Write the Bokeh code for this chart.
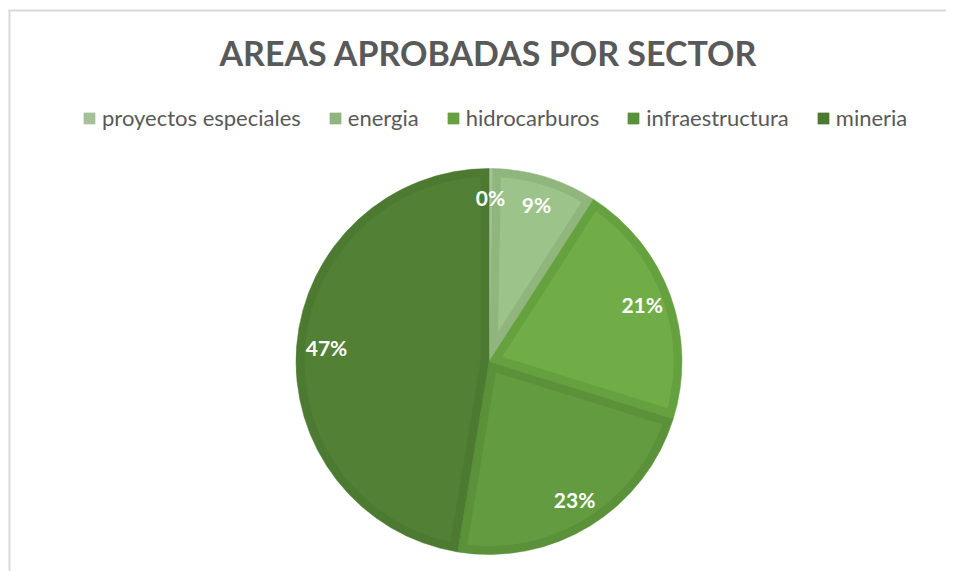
import math
from bokeh.plotting import figure
from bokeh.models import ColumnDataSource, Label
from bokeh.core.properties import value
from bokeh.embed import file_html
from bokeh.resources import INLINE

# ---- data ----
sectors = ["proyectos especiales", "energia", "hidrocarburos", "infraestructura", "mineria"]
shares = [0.3, 8.8, 20.7, 22.8, 47.4]
fill_colors = ["#A9C59F", "#9CC48A", "#70AD47", "#629B40", "#528034"]
edge_colors = ["#A4C199", "#90B67D", "#66A13F", "#5A9139", "#4C7A30"]
title_text = "AREAS APROBADAS POR SECTOR"

# ---- layout (pixel-like data space) ----
W, H = 946, 571
CX, CY, R = 488.5, 210.0, 193.0
INSET = 8.5
LABEL_R = 163.0

total = sum(shares)
starts, ends, mids = [], [], []
cum = 0.0
for s in shares:
    a0 = math.pi / 2 - 2 * math.pi * cum / total
    cum += s
    a1 = math.pi / 2 - 2 * math.pi * cum / total
    starts.append(a0)
    ends.append(a1)
    mids.append((a0 + a1) / 2)

pct_labels = [f"{round(s / total * 100)}%" for s in shares]

# inset polygons (inner fill area of every slice)
xs, ys = [], []
for a0, a1 in zip(starts, ends):
    h = (a0 - a1) / 2
    b = (a0 + a1) / 2
    if math.sin(h) * (R - INSET) < 3 * INSET:
        xs.append([CX])
        ys.append([CY])
        continue
    shift = INSET / math.sin(h)
    px, py = CX + shift * math.cos(b), CY + shift * math.sin(b)
    r2 = R - INSET
    t = math.sqrt(r2 ** 2 - INSET ** 2)
    dlt = math.atan2(INSET, t)
    s_ang, e_ang = a0 - dlt, a1 + dlt
    n = 80
    arc = [s_ang + (e_ang - s_ang) * k / n for k in range(n + 1)]
    xs.append([px] + [CX + r2 * math.cos(a) for a in arc])
    ys.append([py] + [CY + r2 * math.sin(a) for a in arc])

src = ColumnDataSource(dict(
    sector=sectors, start=starts, end=ends, fill=fill_colors, edge=edge_colors,
    xs=xs, ys=ys,
    lx=[CX + LABEL_R * math.cos(m) for m in mids],
    ly=[CY + LABEL_R * math.sin(m) + 1 for m in mids],
    lab=pct_labels,
))

p = figure(width=W, height=H, x_range=(0, W), y_range=(0, H),
           output_backend="svg", toolbar_location=None, min_border=0,
           x_axis_location=None, y_axis_location=None,
           outline_line_color=None, background_fill_color="white",
           border_fill_color="white")
p.grid.visible = False

# chart border (left / top visible in reference)
p.segment(x0=[9, 8], y0=[0, 561], x1=[9, W], y1=[561, 561],
          line_color="#D9D9D9", line_width=2)

p.wedge(x=CX, y=CY, radius=R, start_angle="start", end_angle="end",
        direction="clock", fill_color="edge", line_color="edge", line_width=0.5,
        source=src, legend_field="sector")
p.patches(xs="xs", ys="ys", fill_color="fill", line_color=None, source=src)

p.text(x="lx", y="ly", text="lab", source=src, text_align="center",
       text_baseline="middle", text_color="white", text_font=value("Lato"),
       text_font_style="bold", text_font_size="21px")

p.add_layout(Label(x=488, y=519, text=title_text, text_align="center",
                   text_baseline="alphabetic", text_font="Lato",
                   text_font_style="bold", text_font_size="34px",
                   text_color="#595959"))

lg = p.legend[0]
lg.location = (82, 440)
lg.orientation = "horizontal"
lg.glyph_width = 14
lg.glyph_height = 14
lg.label_standoff = 6
lg.spacing = 27
lg.padding = 0
lg.margin = 0
lg.border_line_color = None
lg.background_fill_alpha = 0
lg.label_text_font = "Lato"
lg.label_text_font_size = "22px"
lg.label_text_color = "#595959"
lg.label_height = 14

open("out.html", "w").write(file_html(p, INLINE))
